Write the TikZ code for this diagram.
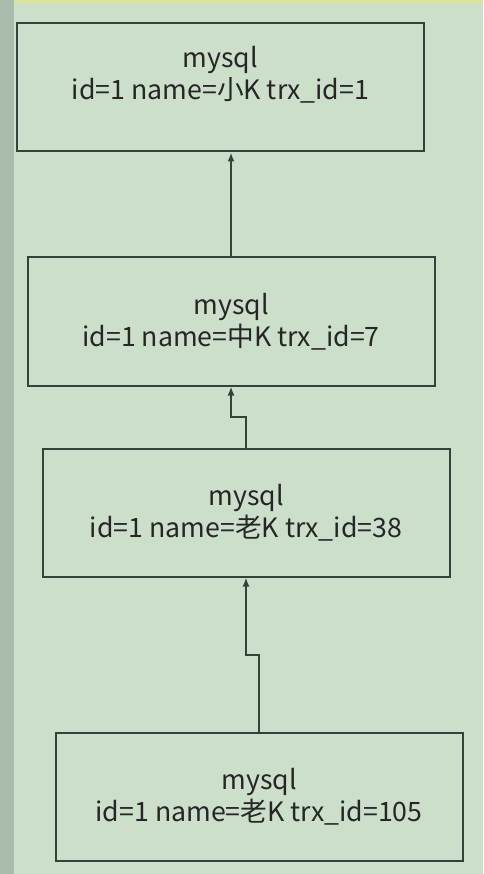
\documentclass[tikz,border=0pt]{standalone}
\usepackage{fontspec}
\setmainfont{Noto Sans CJK SC}
\usetikzlibrary{positioning,calc,arrows.meta}
\definecolor{bggreen}{HTML}{CCDFCB}
\definecolor{sidegray}{HTML}{A9BBAB}
\definecolor{linegray}{HTML}{34433A}
\tikzset{version/.style={draw=linegray,line width=2pt,minimum width=407pt,minimum height=128pt,inner sep=0pt,align=center,font=\fontsize{26.7}{32}\selectfont,text=black!85},
         link/.style={draw=linegray,line width=2pt,-{Latex[length=9pt,width=7pt]}}
}

\begin{document}
\begin{tikzpicture}[x=1pt,y=-1pt]
\useasboundingbox (0,0) rectangle (483,874);
\fill[bggreen] (0,0) rectangle (483,874);
\fill[sidegray] (0,0) rectangle (14,874);
\fill[yellow!25!bggreen] (14,0) rectangle (483,4);

\node[version] (v1) at (220.5,87.5) {};
\node[version,draw=none,minimum size=0pt] (t1) at ([yshift=13pt]v1.center) {mysql\\id=1 name=小K trx\_id=1};
\node[version,below=104pt of v1,xshift=10.5pt] (v2) {mysql\\id=1 name=中K trx\_id=7};
\node[version,below=61pt of v2,xshift=15pt] (v3) {mysql\\id=1 name=老K trx\_id=38};
\node[version,below=154pt of v3,xshift=13pt] (v4) {mysql\\id=1 name=老K trx\_id=105};

\draw[link] (v2.north) -- (v2.north |- v1.south);
\draw[link] (v3.north) -- ($(v3.north)!0.5!(v2.south -| v3.north)$) -| (v2.south);
\draw[link] (v4.north) -- ($(v4.north)!0.5!(v3.south -| v4.north)$) -| (v3.south);

\end{tikzpicture}
\end{document}
